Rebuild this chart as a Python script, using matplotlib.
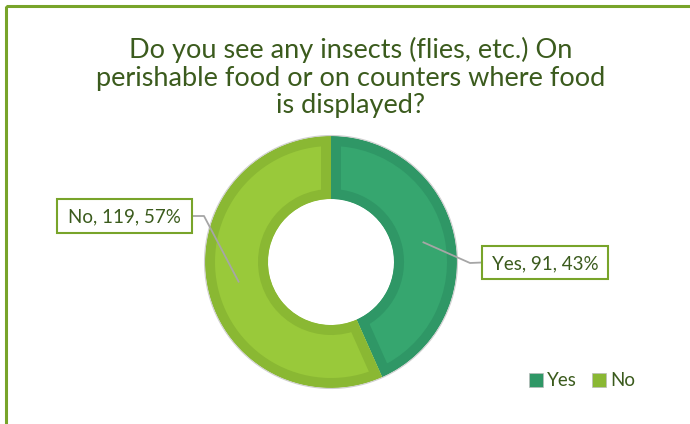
import numpy as np
import matplotlib
matplotlib.use("Agg")
import matplotlib.pyplot as plt
from matplotlib.patches import Rectangle, Patch

plt.rcParams["font.family"] = ["Lato", "DejaVu Sans"]

# Survey answers
categories = ["Yes", "No"]
counts = [91, 119]
percents = [43, 57]
title = "Do you see any insects (flies, etc.) On\nperishable food or on counters where food\nis displayed?"

fill_colors = ["#36A66F", "#99C93A"]
edge_colors = ["#2F9766", "#8AB833"]
text_color = "#3B5B1D"
frame_color = "#78A42A"

W, H = 690, 424
fig = plt.figure(figsize=(W / 100, H / 100), dpi=100)

# Overlay in pixel units for frame and title
over = fig.add_axes([0, 0, 1, 1])
over.set_xlim(0, W)
over.set_ylim(H, 0)
over.axis("off")

over.add_patch(Rectangle((5.5, 6), W + 20, H + 20, fill=False,
                         edgecolor=frame_color, linewidth=2.2))

# va="baseline" on a multi-line text anchors the last line
over.text(351, 113, title, ha="center", va="baseline", fontsize=19.5,
          color=text_color, linespacing=1.12, multialignment="center")

# Donut axes
cx, cy, R = 331, 262, 126
ax = fig.add_axes([(cx - R) / W, (H - cy - R) / H, 2 * R / W, 2 * R / H])
wedges, _ = ax.pie(counts, startangle=90, counterclock=False, radius=1,
                   wedgeprops=dict(width=0.5))
ax.set_xlim(-1, 1)
ax.set_ylim(-1, 1)
ax.set_aspect("equal")
ax.axis("off")

band = 20 * 0.72  # points; half of it stays visible inside the clip
for w, fc, ec in zip(wedges, fill_colors, edge_colors):
    w.set_facecolor(fc)
    w.set_edgecolor(ec)
    w.set_linewidth(band)
    w.set_clip_on(True)
    w.set_clip_path(w)

# Thin soft outline around the ring
theta = np.linspace(0, 2 * np.pi, 400)
ax.plot(np.cos(theta) * 1.004, np.sin(theta) * 1.004, color="#CFCFCF", lw=0.8,
        clip_on=False)

# Label layer above the donut
top = fig.add_axes([0, 0, 1, 1])
top.set_xlim(0, W)
top.set_ylim(H, 0)
top.axis("off")

box_centers = {"Yes": (545, 262.5), "No": (124.5, 216)}
box_sizes = {"Yes": (126, 33), "No": (135, 34)}
elbows = {"Yes": (470, 263), "No": (204, 216)}
total = sum(counts)
start = 90.0
for cat, n, p in zip(categories, counts, percents):
    span = 360.0 * n / total
    mid = np.deg2rad(start - span / 2)
    start -= span
    px = cx + 0.75 * R * np.cos(mid)
    py = cy - 0.75 * R * np.sin(mid)
    bx, by = box_centers[cat]
    bw, bh = box_sizes[cat]
    ex, ey = elbows[cat]
    edge_x = bx - bw / 2 if bx > cx else bx + bw / 2
    top.plot([px, ex, edge_x], [py, ey, by], color="#A6A6A6", lw=1.3)
    top.add_patch(Rectangle((bx - bw / 2, by - bh / 2), bw, bh,
                            facecolor="white", edgecolor=frame_color,
                            linewidth=1.5, zorder=4))
    top.text(bx, by + 1, f"{cat}, {n}, {p}%", ha="center", va="center",
             fontsize=13.5, color=text_color, zorder=5)

# Legend
handles = [Patch(facecolor=c, edgecolor="#BBBBBB", linewidth=0.5) for c in edge_colors]
fig.legend(handles, categories, loc="center", bbox_to_anchor=(582 / W, 1 - 381 / H),
           ncol=2, frameon=False, fontsize=13.5, handlelength=0.75,
           handleheight=0.75, handletextpad=0.2, columnspacing=0.8,
           labelcolor=text_color, borderpad=0)

fig.savefig("out.png", dpi=100)
